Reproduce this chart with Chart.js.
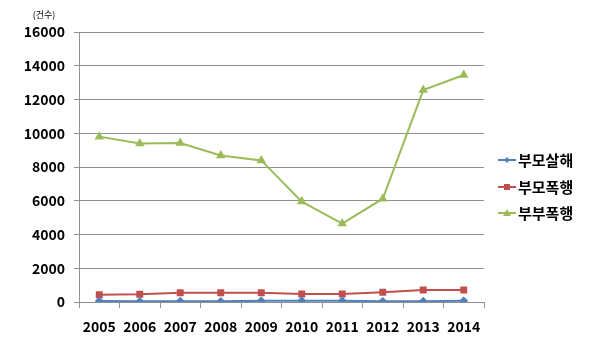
<!DOCTYPE html>
<html>
<head>
<meta charset="utf-8">
<script src="https://cdn.jsdelivr.net/npm/chart.js@4"></script>
<style>
  html, body { margin: 0; padding: 0; background: #fff; }
  #wrap { width: 600px; height: 354px; }
</style>
</head>
<body>
<div id="wrap"><canvas id="graphique" width="600" height="354"></canvas></div>
<script>
// données
const annees = ["2005", "2006", "2007", "2008", "2009", "2010", "2011", "2012", "2013", "2014"];
const parentMeurtre = [60, 40, 50, 40, 70, 80, 70, 40, 50, 70];
const parentViolence = [430, 460, 550, 550, 550, 470, 470, 580, 710, 710];
const couleViolence = [9800, 9400, 9420, 8680, 8390, 5950, 4650, 6120, 12560, 13450];
const graduations = [0, 2000, 4000, 6000, 8000, 10000, 12000, 14000, 16000];

const police = "'Noto Sans CJK KR', 'Noto Sans', sans-serif";

// légende + unité dessinées à la main
const legendePerso = {
    id: "legendePerso",
    afterDraw(chart) {
        const ctx = chart.ctx;
        ctx.save();
        ctx.fillStyle = "#000";
        ctx.font = "9px " + police;
        ctx.textAlign = "center";
        ctx.textBaseline = "middle";
        ctx.fillText("(건수)", 44, 15);

        const ys = [160, 187, 213];
        chart.data.datasets.forEach((ds, i) => {
            const y = ys[i];
            ctx.strokeStyle = ds.borderColor;
            ctx.lineWidth = 2;
            ctx.beginPath();
            ctx.moveTo(498, y);
            ctx.lineTo(516, y);
            ctx.stroke();
            ctx.fillStyle = ds.backgroundColor;
            ctx.beginPath();
            if (ds.pointStyle === "rectRot") {
                ctx.moveTo(507, y - 3); ctx.lineTo(510, y); ctx.lineTo(507, y + 3); ctx.lineTo(504, y);
            } else if (ds.pointStyle === "rect") {
                ctx.rect(504, y - 3, 6, 6);
            } else {
                ctx.moveTo(507, y - 4); ctx.lineTo(511, y + 3); ctx.lineTo(503, y + 3);
            }
            ctx.closePath();
            ctx.fill();
            ctx.fillStyle = "#000";
            ctx.font = "bold 15px " + police;
            ctx.textAlign = "left";
            ctx.fillText(ds.label, 518, y);
        });
        ctx.restore();
    }
};

const ctx = document.getElementById("graphique");

new Chart(ctx, {
    type: "line",
    data: {
        labels: annees,
        datasets: [
            { label: "부모살해", data: parentMeurtre, borderColor: "#4F81BD", backgroundColor: "#4F81BD",
              pointStyle: "rectRot", pointRadius: 3, borderWidth: 2 },
            { label: "부모폭행", data: parentViolence, borderColor: "#C0504D", backgroundColor: "#C0504D",
              pointStyle: "rect", pointRadius: 3.5, borderWidth: 2 },
            { label: "부부폭행", data: couleViolence, borderColor: "#9BBB59", backgroundColor: "#9BBB59",
              pointStyle: "triangle", pointRadius: 3.5, borderWidth: 2 }
        ]
    },
    options: {
        responsive: false,
        animation: false,
        layout: { padding: { top: 32, right: 116, bottom: 0, left: 0 } },
        plugins: { legend: { display: false }, tooltip: { enabled: false } },
        elements: { line: { tension: 0 } },
        scales: {
            x: {
                offset: true,
                grid: { offset: true, drawOnChartArea: false, tickLength: 6, color: "#909090" },
                border: { color: "#909090" },
                ticks: { color: "#000", font: { family: police, size: 14, weight: "bold" }, padding: 10, maxRotation: 0 },
                afterFit(scale) { scale.height = 52; }
            },
            y: {
                min: 0,
                max: 16000,
                afterBuildTicks(scale) { scale.ticks = graduations.map(v => ({ value: v })); },
                grid: { color: "#909090", tickLength: 5 },
                border: { color: "#909090" },
                ticks: { color: "#000", font: { family: police, size: 14, weight: "bold" }, padding: 9,
                         callback: v => String(v) },
                afterFit(scale) { scale.width = 79; }
            }
        }
    },
    plugins: [legendePerso]
});
</script>
</body>
</html>
